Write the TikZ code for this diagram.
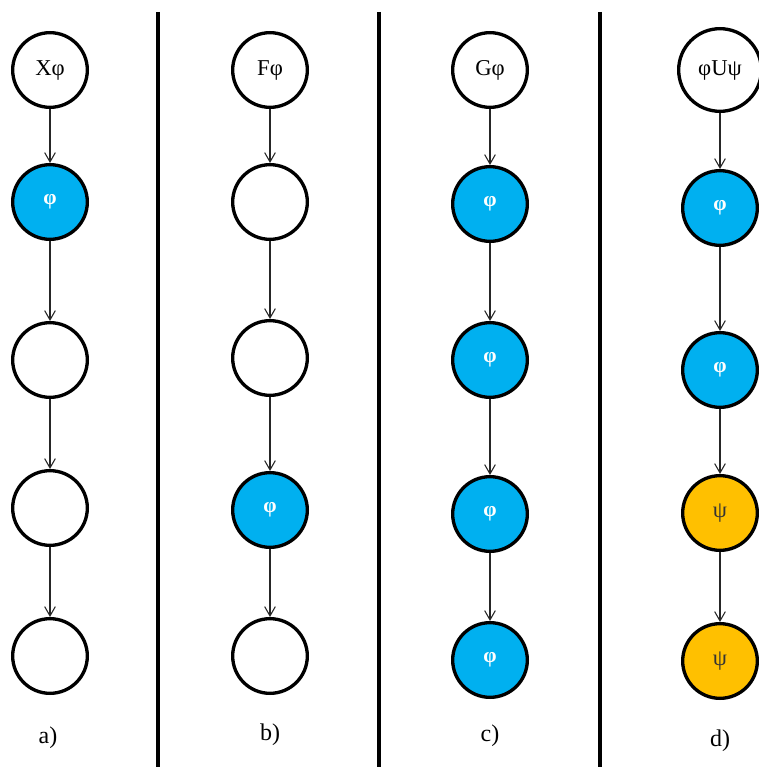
\documentclass[tikz,border=0pt]{standalone}
\usepackage{fontspec}
\setmainfont{Liberation Serif}
\usetikzlibrary{arrows.meta}
\definecolor{nodeblue}{HTML}{00B0F0}
\definecolor{nodeorange}{HTML}{FFC000}
\tikzset{
  st/.style={circle, draw=black, line width=2.5pt, minimum size=56pt, inner sep=0pt, font=\fontsize{17}{19}\selectfont},
  stblue/.style={st, fill=nodeblue, text=white, font=\fontsize{16}{18}\selectfont\bfseries},
  storange/.style={st, fill=nodeorange, text=black!80},
  conn/.style={draw=black!85, line width=0.8pt, -{Straight Barb[length=7pt,width=8pt]}},
  sep/.style={line width=3.2pt, black},
  lab/.style={font=\fontsize{18}{20}\selectfont}
}
\begin{document}
\begin{tikzpicture}[x=0.75pt,y=-0.75pt]
\useasboundingbox (0,0) rectangle (759,767);
% separators
\coordinate (s1t) at (158,12); \coordinate (s1b) at (158,767);
\coordinate (s2t) at (379,12); \coordinate (s2b) at (379,767);
\coordinate (s3t) at (600,12); \coordinate (s3b) at (600,767);
\draw[sep] (s1t) -- (s1b);
\draw[sep] (s2t) -- (s2b);
\draw[sep] (s3t) -- (s3b);
% column a
\node[st] (a1) at (50,70) {Xφ};
\node[stblue] (a2) at (50,202) {φ};
\node[st] (a3) at (50,360) {};
\node[st] (a4) at (50,508) {};
\node[st] (a5) at (50,656) {};
\node[lab] (la) at (48,738) {a)};
\draw[conn] (a1) -- (a2);
\draw[conn] (a2) -- (a3);
\draw[conn] (a3) -- (a4);
\draw[conn] (a4) -- (a5);
% column b
\node[st] (b1) at (270,70) {Fφ};
\node[st] (b2) at (270,202) {};
\node[st] (b3) at (270,358) {};
\node[stblue] (b4) at (270,510) {φ};
\node[st] (b5) at (270,656) {};
\node[lab] (lb) at (270,735) {b)};
\draw[conn] (b1) -- (b2);
\draw[conn] (b2) -- (b3);
\draw[conn] (b3) -- (b4);
\draw[conn] (b4) -- (b5);
% column c
\node[st] (c1) at (490,70) {Gφ};
\node[stblue] (c2) at (490,204) {φ};
\node[stblue] (c3) at (490,360) {φ};
\node[stblue] (c4) at (490,514) {φ};
\node[stblue] (c5) at (490,660) {φ};
\node[lab] (lc) at (490,736) {c)};
\draw[conn] (c1) -- (c2);
\draw[conn] (c2) -- (c3);
\draw[conn] (c3) -- (c4);
\draw[conn] (c4) -- (c5);
% column d
\node[st, minimum size=62pt] (d1) at (720,70) {φUψ};
\node[stblue] (d2) at (720,208) {φ};
\node[stblue] (d3) at (720,370) {φ};
\node[storange] (d4) at (720,513) {ψ};
\node[storange] (d5) at (720,661) {ψ};
\node[lab] (ld) at (720,741) {d)};
\draw[conn] (d1) -- (d2);
\draw[conn] (d2) -- (d3);
\draw[conn] (d3) -- (d4);
\draw[conn] (d4) -- (d5);
\end{tikzpicture}
\end{document}
